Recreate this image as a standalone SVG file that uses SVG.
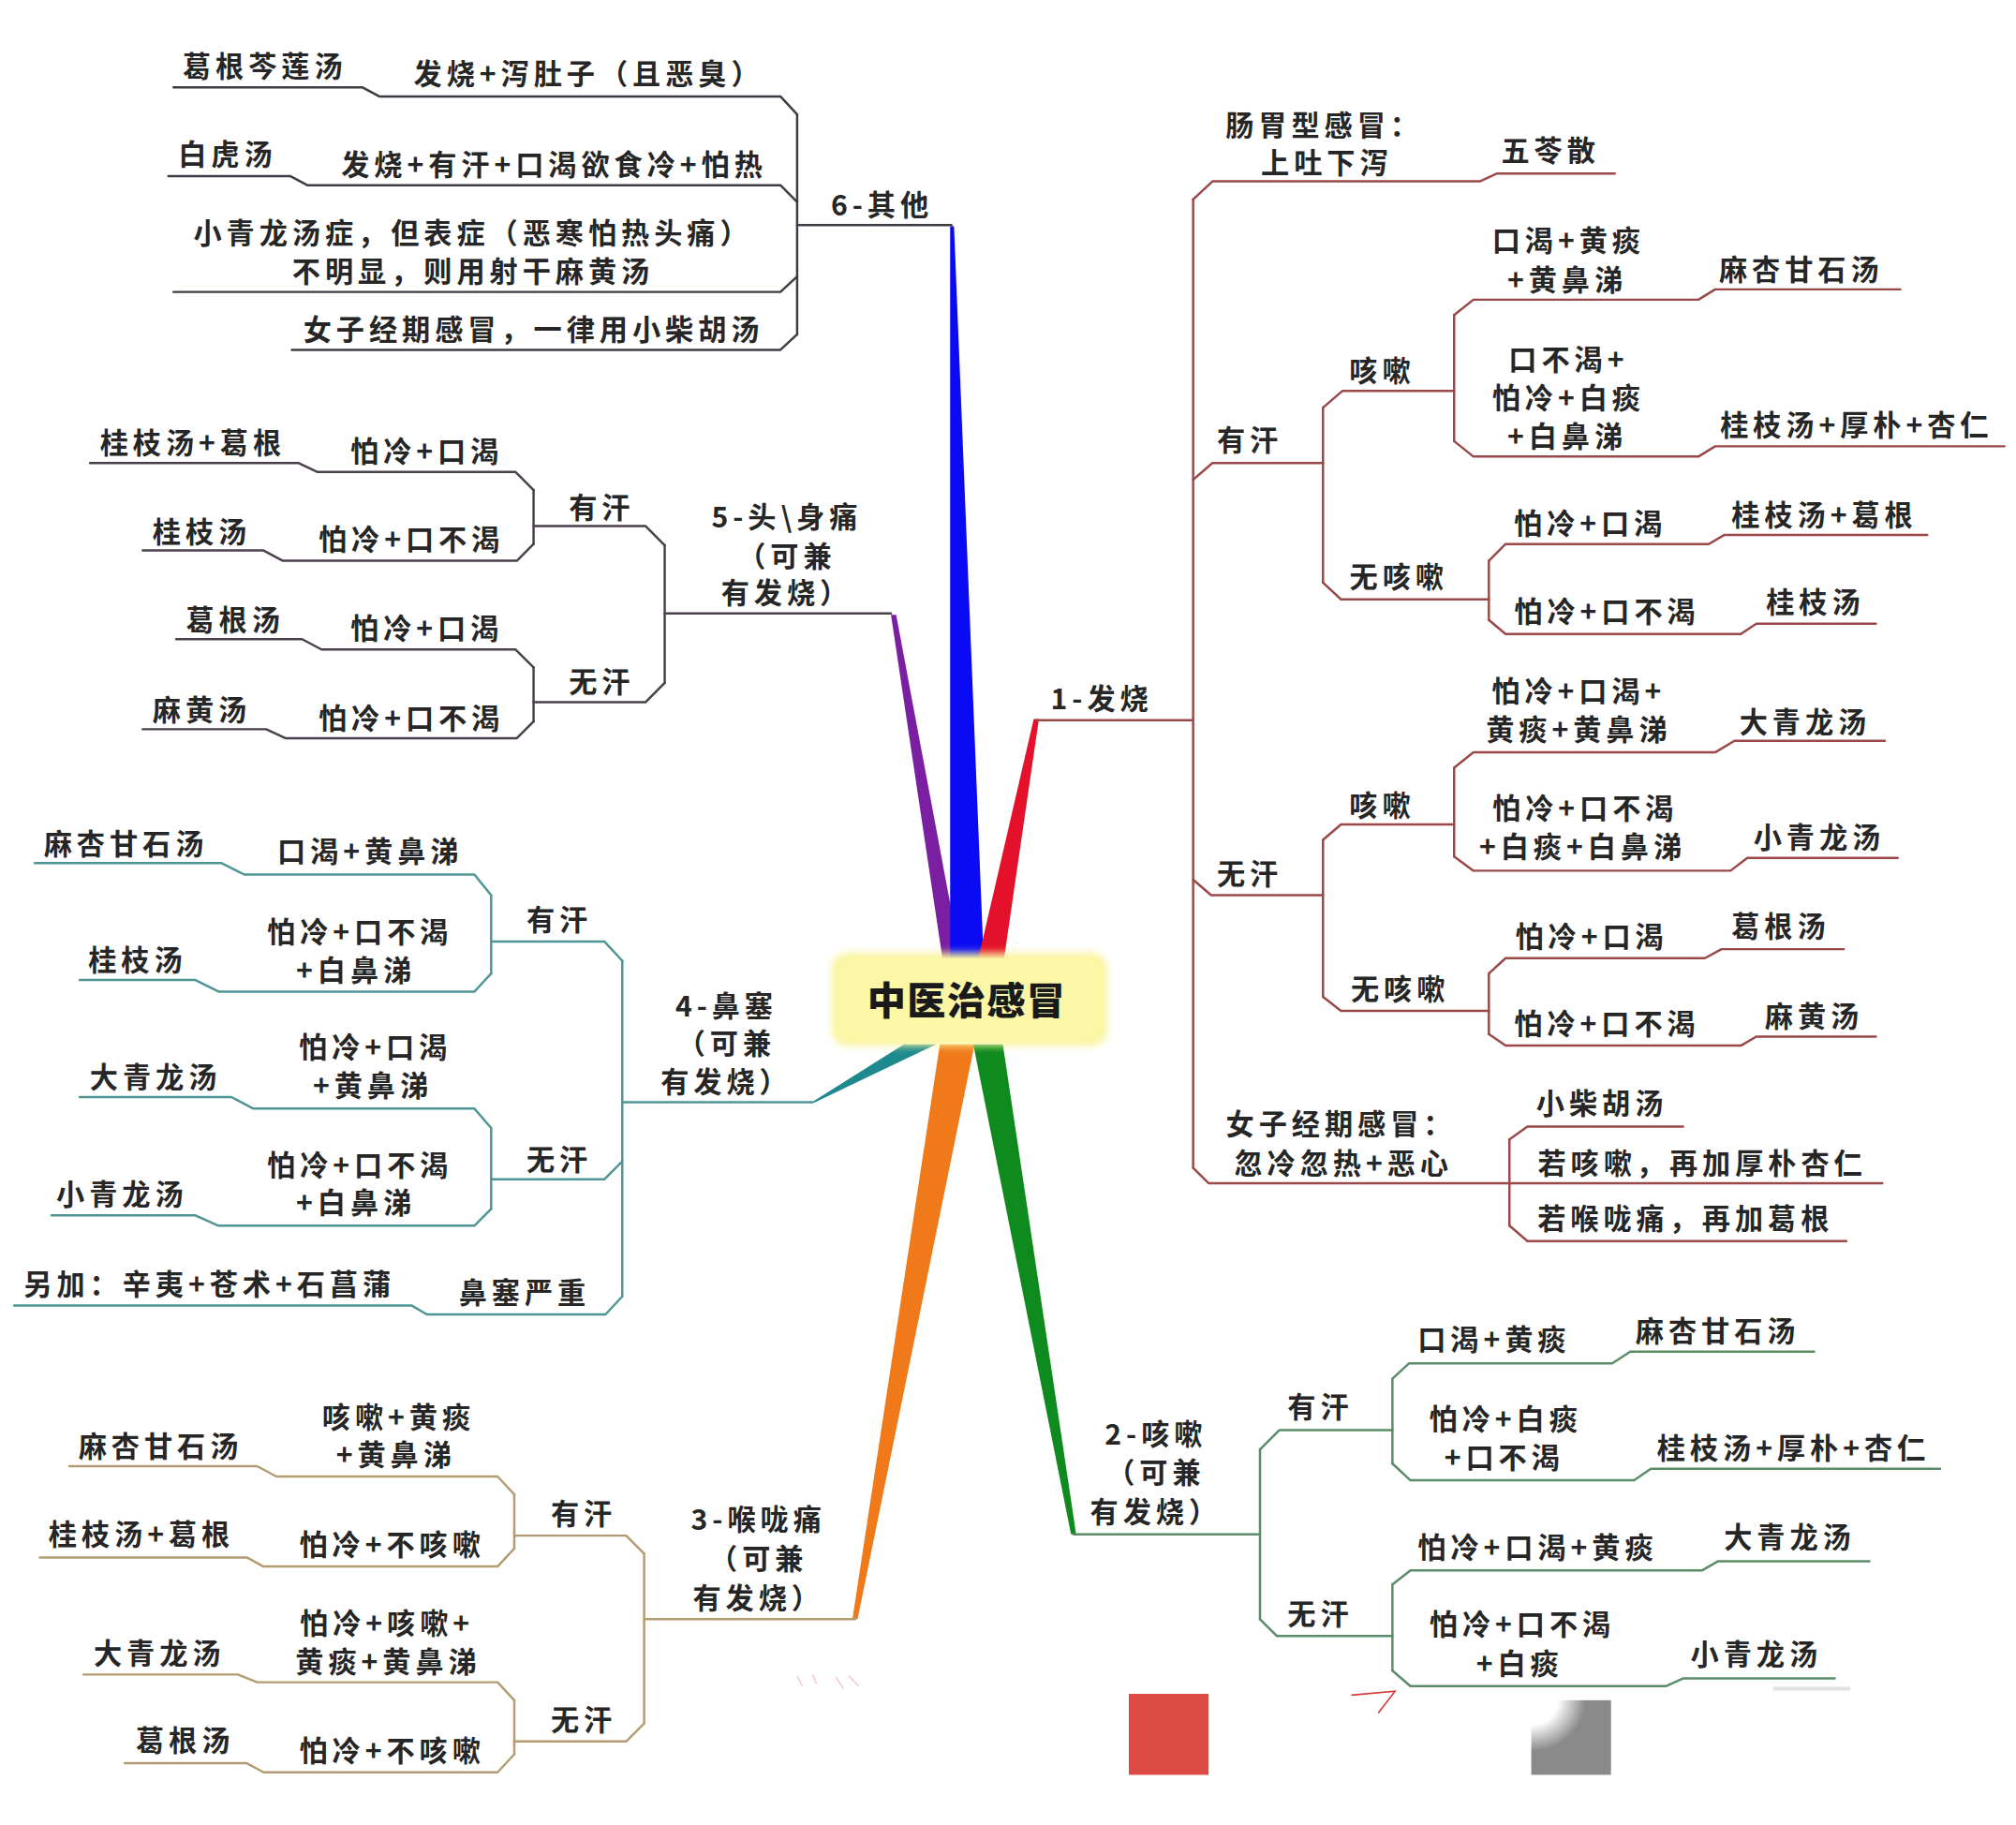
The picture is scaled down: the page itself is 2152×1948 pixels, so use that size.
<svg xmlns="http://www.w3.org/2000/svg" width="2152" height="1948" viewBox="0 0 2152 1948">
<defs>
<style>
.t{font-family:"Noto Sans CJK SC","Noto Sans",sans-serif;font-size:22px;fill:#262626;text-anchor:middle;dominant-baseline:central;letter-spacing:3.6px;font-weight:700}
.ttl{font-family:"Noto Sans CJK SC","Noto Sans",sans-serif;font-size:30px;font-weight:900;fill:#1a1a1a;text-anchor:middle;dominant-baseline:central;letter-spacing:1px}
.c path{fill:none;stroke-width:1.8;stroke-linejoin:round;stroke-linecap:round}
.b6 path{stroke:#3c3c44}
.b5 path{stroke:#4a404c}
.b4 path{stroke:#4f9595}
.b3 path{stroke:#b39c72}
.b2 path{stroke:#5a8c68}
.b1 path{stroke:#9a4848}
</style>
<radialGradient id="gg" cx="0" cy="0" r="1.1" fx="0" fy="0">
<stop offset="0" stop-color="#ffffff"/>
<stop offset="0.3" stop-color="#ffffff"/>
<stop offset="0.62" stop-color="#8a8a8a"/>
<stop offset="1" stop-color="#8a8a8a"/>
</radialGradient>
<filter id="soft" x="-10%" y="-20%" width="120%" height="140%"><feGaussianBlur stdDeviation="3"/></filter>
</defs>
<rect width="2152" height="1948" fill="#ffffff"/>
<g transform="scale(1.37245 1.3728)">

<g id="wedges">
<polygon points="693,478 697,478 747,745 733,745" fill="#7b1fa2"/>
<polygon points="739,176 742,176 765,745 739,745" fill="#0a0af5"/>
<polygon points="804,559 808,559 781,745 761,745" fill="#e5102a"/>
<polygon points="630,858 634,857 728,812 703,812" fill="#1e8a8e"/>
<polygon points="663,1259 667,1259 758,812 731,812" fill="#f07a1a"/>
<polygon points="833,1193 837,1193 780,812 757,812" fill="#0e8a1e"/>
</g>

<g id="connectors" class="c">
<g class="b6">
<path d="M620,89 L620,260"/>
<path d="M620,175 L740,175"/>
<path d="M620,89 L607,75 L295,75 L282,68 L135,68"/>
<path d="M620,157 L607,144 L239,144 L226,137 L131,137"/>
<path d="M620,215 L607,227 L135,227"/>
<path d="M620,260 L607,272 L227,272"/>
</g>
<g class="b5">
<path d="M517,424 L517,531"/>
<path d="M517,477 L693,477"/>
<path d="M517,424 L502,409 L415,409"/>
<path d="M415,381 L415,423"/>
<path d="M415,381 L401,367 L247,367 L232,360 L70,360"/>
<path d="M415,423 L402,436 L220,436 L205,428 L111,428"/>
<path d="M517,531 L502,546 L415,546"/>
<path d="M415,519 L415,561"/>
<path d="M415,519 L401,505 L250,505 L235,497 L137,497"/>
<path d="M415,561 L402,574 L222,574 L207,567 L111,567"/>
</g>
<g class="b4">
<path d="M484,747 L484,1008"/>
<path d="M484,857 L632,857"/>
<path d="M484,747 L470,732 L382,732"/>
<path d="M382,696 L382,757"/>
<path d="M382,696 L369,680 L190,680 L172,671 L27,671"/>
<path d="M382,757 L369,771 L170,771 L152,762 L62,762"/>
<path d="M484,903 L470,917 L382,917"/>
<path d="M382,877 L382,940"/>
<path d="M382,877 L369,862 L197,862 L180,853 L62,853"/>
<path d="M382,940 L369,953 L170,953 L152,945 L40,945"/>
<path d="M484,1008 L471,1022 L332,1022 L320,1015 L11,1015"/>
</g>
<g class="b3">
<path d="M501,1208 L501,1340"/>
<path d="M501,1259 L665,1259"/>
<path d="M501,1208 L487,1194 L400,1194"/>
<path d="M400,1162 L400,1204"/>
<path d="M400,1162 L387,1148 L215,1148 L200,1140 L54,1140"/>
<path d="M400,1204 L387,1218 L205,1218 L192,1211 L31,1211"/>
<path d="M501,1340 L487,1354 L400,1354"/>
<path d="M400,1322 L400,1364"/>
<path d="M400,1322 L387,1308 L200,1308 L185,1302 L65,1302"/>
<path d="M400,1364 L387,1378 L205,1378 L192,1371 L97,1371"/>
</g>
<g class="b2">
<path d="M980,1127 L980,1259"/>
<path d="M835,1193 L980,1193"/>
<path d="M980,1127 L995,1112 L1083,1112"/>
<path d="M980,1259 L993,1272 L1083,1272"/>
<path d="M1083,1072 L1083,1138"/>
<path d="M1083,1072 L1096,1060 L1254,1060 L1268,1051 L1411,1051"/>
<path d="M1083,1138 L1097,1151 L1271,1151 L1284,1142 L1509,1142"/>
<path d="M1083,1232 L1083,1299"/>
<path d="M1083,1232 L1097,1221 L1324,1221 L1336,1214 L1454,1214"/>
<path d="M1083,1299 L1097,1311 L1296,1311 L1309,1305 L1427,1305"/>
</g>
<g class="b1">
<path d="M928,155 L928,908"/>
<path d="M806,560 L928,560"/>
<path d="M928,155 L943,141 L1151,141 L1164,135 L1256,135"/>
<path d="M928,373 L943,360 L1029,360"/>
<path d="M1029,317 L1029,453"/>
<path d="M1029,317 L1044,304 L1131,304"/>
<path d="M1131,245 L1131,343"/>
<path d="M1131,245 L1146,233 L1321,233 L1334,225 L1478,225"/>
<path d="M1131,343 L1146,355 L1321,355 L1334,347 L1559,347"/>
<path d="M1029,453 L1043,466 L1158,466"/>
<path d="M1158,436 L1158,482"/>
<path d="M1158,436 L1171,423 L1329,423 L1341,416 L1499,416"/>
<path d="M1158,482 L1171,493 L1354,493 L1366,485 L1459,485"/>
<path d="M928,684 L942,696 L1029,696"/>
<path d="M1029,653 L1029,775"/>
<path d="M1029,653 L1043,641 L1131,641"/>
<path d="M1131,597 L1131,666"/>
<path d="M1131,597 L1146,585 L1334,585 L1349,576 L1466,576"/>
<path d="M1131,666 L1146,677 L1346,677 L1359,667 L1476,667"/>
<path d="M1029,775 L1043,786 L1158,786"/>
<path d="M1158,757 L1158,804"/>
<path d="M1158,757 L1171,745 L1326,745 L1339,738 L1434,738"/>
<path d="M1158,804 L1171,813 L1354,813 L1366,806 L1459,806"/>
<path d="M928,908 L940,920 L1464,920"/>
<path d="M1174,886 L1174,953"/>
<path d="M1174,886 L1188,876 L1309,876"/>
<path d="M1174,953 L1188,965 L1436,965"/>
</g>
</g>

<g id="center">
<rect x="647" y="741" width="214" height="72" rx="12" fill="#f9f49c" filter="url(#soft)"/>
<rect x="651" y="745" width="206" height="64" rx="10" fill="#fbf7a6"/>
<text class="ttl" x="752" y="776">中医治感冒</text>
</g>

<g id="b6">
<text class="t" x="686" y="158">6-其他</text>
<text class="t" x="206" y="50">葛根芩莲汤</text>
<text class="t" x="458" y="56">发烧+泻肚子（且恶臭）</text>
<text class="t" x="177" y="119">白虎汤</text>
<text class="t" x="431" y="127">发烧+有汗+口渴欲食冷+怕热</text>
<text class="t" x="368" y="180">小青龙汤症，但表症（恶寒怕热头痛）</text>
<text class="t" x="368" y="210">不明显，则用射干麻黄汤</text>
<text class="t" x="415" y="255">女子经期感冒，一律用小柴胡汤</text>
</g>

<g id="b5">
<text class="t" x="612" y="401">5-头\身痛</text>
<text class="t" x="612" y="431">（可兼</text>
<text class="t" x="612" y="460">有发烧）</text>
<text class="t" x="468" y="393">有汗</text>
<text class="t" x="468" y="529">无汗</text>
<text class="t" x="150" y="343">桂枝汤+葛根</text>
<text class="t" x="332" y="350">怕冷+口渴</text>
<text class="t" x="157" y="412">桂枝汤</text>
<text class="t" x="320" y="418">怕冷+口不渴</text>
<text class="t" x="183" y="481">葛根汤</text>
<text class="t" x="332" y="487">怕冷+口渴</text>
<text class="t" x="157" y="551">麻黄汤</text>
<text class="t" x="320" y="557">怕冷+口不渴</text>
</g>

<g id="b4">
<text class="t" x="565" y="781">4-鼻塞</text>
<text class="t" x="565" y="810">（可兼</text>
<text class="t" x="565" y="840">有发烧）</text>
<text class="t" x="435" y="714">有汗</text>
<text class="t" x="435" y="900">无汗</text>
<text class="t" x="98" y="655">麻杏甘石汤</text>
<text class="t" x="288" y="661">口渴+黄鼻涕</text>
<text class="t" x="107" y="745">桂枝汤</text>
<text class="t" x="280" y="723">怕冷+口不渴</text>
<text class="t" x="277" y="753">+白鼻涕</text>
<text class="t" x="121" y="836">大青龙汤</text>
<text class="t" x="292" y="813">怕冷+口渴</text>
<text class="t" x="290" y="843">+黄鼻涕</text>
<text class="t" x="95" y="927">小青龙汤</text>
<text class="t" x="280" y="905">怕冷+口不渴</text>
<text class="t" x="277" y="934">+白鼻涕</text>
<text class="t" x="163" y="997">另加：辛夷+苍术+石菖蒲</text>
<text class="t" x="408" y="1004">鼻塞严重</text>
</g>

<g id="b3">
<text class="t" x="590" y="1180">3-喉咙痛</text>
<text class="t" x="590" y="1211">（可兼</text>
<text class="t" x="590" y="1241">有发烧）</text>
<text class="t" x="454" y="1176">有汗</text>
<text class="t" x="454" y="1336">无汗</text>
<text class="t" x="125" y="1123">麻杏甘石汤</text>
<text class="t" x="310" y="1101">咳嗽+黄痰</text>
<text class="t" x="308" y="1130">+黄鼻涕</text>
<text class="t" x="110" y="1192">桂枝汤+葛根</text>
<text class="t" x="305" y="1200">怕冷+不咳嗽</text>
<text class="t" x="124" y="1284">大青龙汤</text>
<text class="t" x="301" y="1261">怕冷+咳嗽+</text>
<text class="t" x="302" y="1291">黄痰+黄鼻涕</text>
<text class="t" x="144" y="1352">葛根汤</text>
<text class="t" x="305" y="1360">怕冷+不咳嗽</text>
</g>

<g id="b2">
<text class="t" x="899" y="1114">2-咳嗽</text>
<text class="t" x="899" y="1144">（可兼</text>
<text class="t" x="899" y="1174">有发烧）</text>
<text class="t" x="1027" y="1093">有汗</text>
<text class="t" x="1027" y="1254">无汗</text>
<text class="t" x="1162" y="1040">口渴+黄痰</text>
<text class="t" x="1336" y="1034">麻杏甘石汤</text>
<text class="t" x="1171" y="1102">怕冷+白痰</text>
<text class="t" x="1170" y="1132">+口不渴</text>
<text class="t" x="1395" y="1125">桂枝汤+厚朴+杏仁</text>
<text class="t" x="1196" y="1202">怕冷+口渴+黄痰</text>
<text class="t" x="1392" y="1194">大青龙汤</text>
<text class="t" x="1184" y="1262">怕冷+口不渴</text>
<text class="t" x="1182" y="1292">+白痰</text>
<text class="t" x="1366" y="1285">小青龙汤</text>
</g>

<g id="b1">
<text class="t" x="857" y="542">1-发烧</text>
<text class="t" x="1030" y="96">肠胃型感冒：</text>
<text class="t" x="1032" y="125">上吐下泻</text>
<text class="t" x="1206" y="116">五苓散</text>
<text class="t" x="972" y="341">有汗</text>
<text class="t" x="1075" y="287">咳嗽</text>
<text class="t" x="1220" y="186">口渴+黄痰</text>
<text class="t" x="1219" y="216">+黄鼻涕</text>
<text class="t" x="1401" y="208">麻杏甘石汤</text>
<text class="t" x="1220" y="278">口不渴+</text>
<text class="t" x="1220" y="308">怕冷+白痰</text>
<text class="t" x="1219" y="338">+白鼻涕</text>
<text class="t" x="1444" y="329">桂枝汤+厚朴+杏仁</text>
<text class="t" x="1088" y="447">无咳嗽</text>
<text class="t" x="1237" y="406">怕冷+口渴</text>
<text class="t" x="1419" y="399">桂枝汤+葛根</text>
<text class="t" x="1250" y="474">怕冷+口不渴</text>
<text class="t" x="1412" y="467">桂枝汤</text>
<text class="t" x="972" y="678">无汗</text>
<text class="t" x="1075" y="625">咳嗽</text>
<text class="t" x="1228" y="536">怕冷+口渴+</text>
<text class="t" x="1228" y="566">黄痰+黄鼻涕</text>
<text class="t" x="1404" y="560">大青龙汤</text>
<text class="t" x="1233" y="627">怕冷+口不渴</text>
<text class="t" x="1231" y="657">+白痰+白鼻涕</text>
<text class="t" x="1415" y="650">小青龙汤</text>
<text class="t" x="1089" y="768">无咳嗽</text>
<text class="t" x="1238" y="727">怕冷+口渴</text>
<text class="t" x="1385" y="719">葛根汤</text>
<text class="t" x="1250" y="795">怕冷+口不渴</text>
<text class="t" x="1411" y="789">麻黄汤</text>
<text class="t" x="1043" y="873">女子经期感冒：</text>
<text class="t" x="1045" y="903">忽冷忽热+恶心</text>
<text class="t" x="1246" y="857">小柴胡汤</text>
<text class="t" x="1324" y="903">若咳嗽，再加厚朴杏仁</text>
<text class="t" x="1311" y="946">若喉咙痛，再加葛根</text>
</g>

<g id="marks">
<rect x="878" y="1317" width="62" height="63" fill="#dd4a44"/>
<rect x="1191" y="1322" width="62" height="58" fill="url(#gg)"/>
<path d="M1051,1318 L1085,1315 L1072,1332" fill="none" stroke="#d83a3a" stroke-width="1.2"/>
<path d="M620,1303 l4,8 M632,1302 l3,7 M650,1304 l6,9 M660,1303 l8,8" fill="none" stroke="#e88" stroke-width="1" opacity="0.5"/>
<path d="M1379,1313 L1439,1313" stroke="#e2e2e2" stroke-width="3"/>
</g>
</g>
</svg>
